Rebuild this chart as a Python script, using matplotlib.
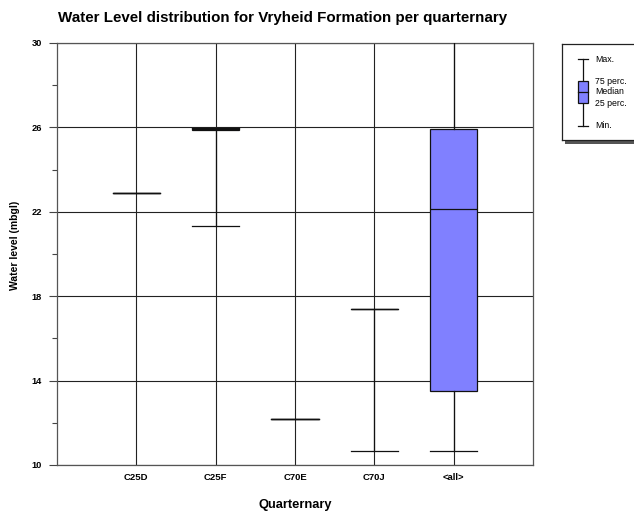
import matplotlib
matplotlib.use('Agg')
import matplotlib.pyplot as plt
from matplotlib.patches import Rectangle
from matplotlib.ticker import MultipleLocator

plt.rcParams['font.family'] = ['Liberation Sans', 'DejaVu Sans']

# Box statistics per quarternary (water level, mbgl)
quarternary = ['C25D', 'C25F', 'C70E', 'C70J', '<all>']
wl_min = [22.9, 21.34, 12.2, 10.68, 10.68]
wl_q1 = [22.9, 25.88, 12.2, 17.38, 13.51]
wl_median = [22.9, 25.93, 12.2, 17.38, 22.12]
wl_q3 = [22.9, 25.98, 12.2, 17.38, 25.91]
wl_max = [22.9, 25.98, 12.2, 17.38, 30.5]  # <all> whisker runs off the top

y_ticks = [10, 14, 18, 22, 26, 30]

W, H = 634, 513
fig = plt.figure(figsize=(W / 100, H / 100), dpi=100, facecolor='white')

# main axes, placed by pixel
ax = fig.add_axes([57 / W, 1 - 465 / H, 476 / W, 422 / H])

stats = []
for i in range(len(quarternary)):
    stats.append({'label': quarternary[i], 'whislo': wl_min[i], 'q1': wl_q1[i],
                  'med': wl_median[i], 'q3': wl_q3[i], 'whishi': wl_max[i]})

line_col = '#111111'
ax.bxp(stats, positions=range(1, len(quarternary) + 1), widths=0.6, capwidths=0.6,
       patch_artist=True, showfliers=False,
       boxprops=dict(facecolor='#8080ff', edgecolor=line_col, lw=0.9),
       medianprops=dict(color=line_col, lw=0.9),
       whiskerprops=dict(color=line_col, lw=0.9),
       capprops=dict(color=line_col, lw=0.9),
       zorder=3)

ax.set_xlim(0, len(quarternary) + 1)
ax.set_ylim(10, 30)
ax.set_yticks(y_ticks)
ax.yaxis.set_minor_locator(MultipleLocator(2))
ax.set_xticks(range(1, len(quarternary) + 1))
ax.set_xticklabels(quarternary)
ax.grid(True, which='major', color='#222222', lw=0.8, zorder=0)
ax.set_axisbelow(True)

ax.tick_params(axis='y', which='major', length=5.5, width=0.8, color='#444444',
               labelsize=6.7, pad=5.5)
ax.tick_params(axis='y', which='minor', length=3.6, width=0.8, color='#444444')
ax.tick_params(axis='x', length=0, labelsize=6.8, pad=6)
for lbl in ax.get_xticklabels() + ax.get_yticklabels():
    lbl.set_fontweight('bold')
for sp in ax.spines.values():
    sp.set_color('#555555')
    sp.set_linewidth(0.9)

ax.set_xlabel('Quarternary', fontsize=9.3, fontweight='bold', va='center')
ax.xaxis.set_label_coords(0.5, -(505 - 465) / 422)
ax.set_ylabel('Water level (mbgl)', fontsize=7.5, fontweight='bold', va='center')
ax.yaxis.set_label_coords((15 - 57) / 476, (465 - 245) / 422)
fig.text(283 / W, 1 - 18 / H, 'Water Level distribution for Vryheid Formation per quarternary',
         ha='center', va='center', fontsize=10.9, fontweight='bold')

# legend box with shadow (drawn in pixel-like units)
lx0, ly0, lw_, lh = 562, 44, 80, 96
shadow = fig.add_axes([(lx0 + 3) / W, 1 - (ly0 + lh + 4) / H, lw_ / W, lh / H])
shadow.set_facecolor('#555555')
shadow.set_xticks([])
shadow.set_yticks([])
for sp in shadow.spines.values():
    sp.set_visible(False)

lg = fig.add_axes([lx0 / W, 1 - (ly0 + lh) / H, lw_ / W, lh / H])
lg.set_xlim(0, lw_)
lg.set_ylim(lh, 0)
lg.set_xticks([])
lg.set_yticks([])
for sp in lg.spines.values():
    sp.set_color('#222222')
    sp.set_linewidth(0.9)

cx, half = 20.7, 5
lg.plot([cx, cx], [15, 81.7], color='#111111', lw=0.9)
lg.plot([cx - half, cx + half], [15, 15], color='#111111', lw=0.9)
lg.plot([cx - half, cx + half], [81.7, 81.7], color='#111111', lw=0.9)
lg.add_patch(Rectangle((cx - half, 36.7), 2 * half, 22.6, facecolor='#8080ff',
                       edgecolor='#111111', lw=0.9, zorder=3))
lg.plot([cx - half, cx + half], [48, 48], color='#111111', lw=0.9, zorder=4)
for txt, yy in [('Max.', 15), ('75 perc.', 37.7), ('Median', 48),
                ('25 perc.', 59.3), ('Min.', 81.7)]:
    lg.text(33, yy, txt, fontsize=6.3, va='center', ha='left')

fig.savefig('out.png', dpi=100, facecolor='white')
